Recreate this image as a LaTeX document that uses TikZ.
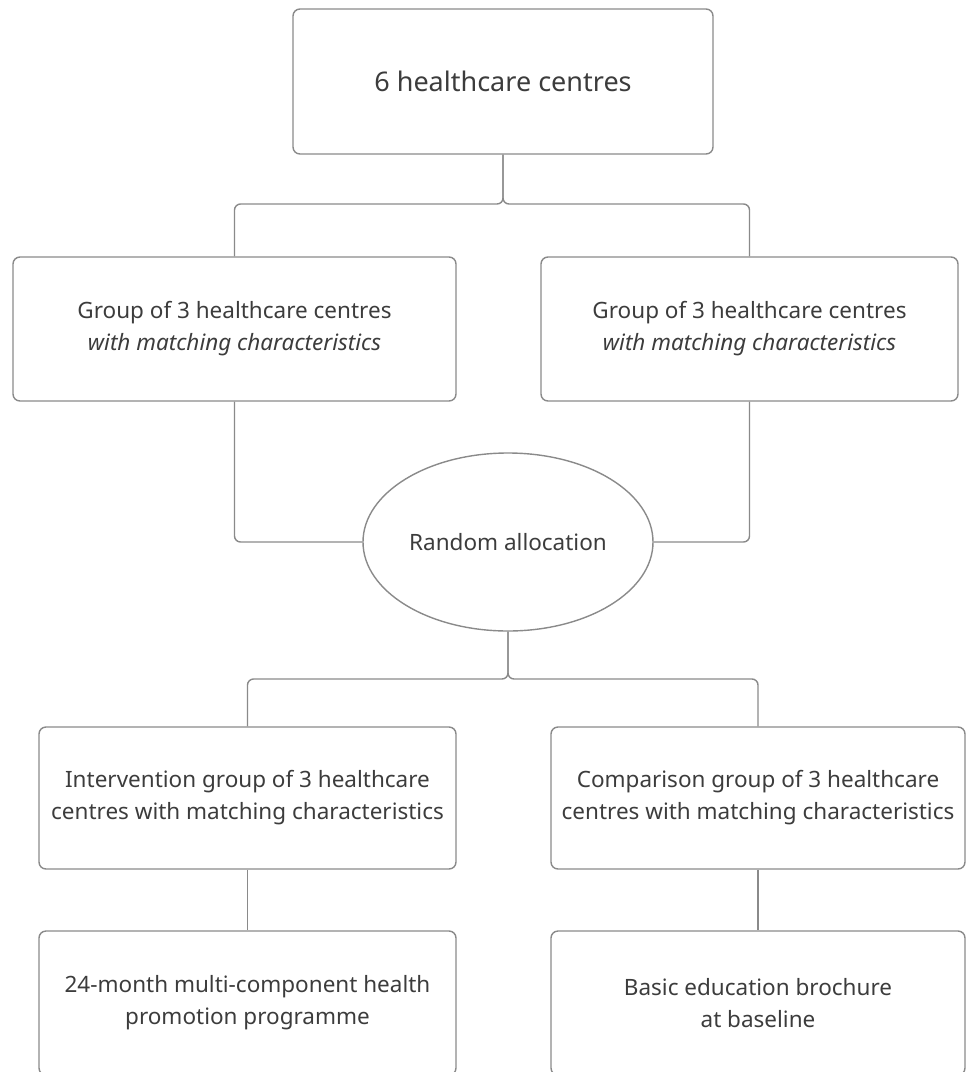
\documentclass[tikz,border=0pt]{standalone}
\usepackage{fontspec}
\setmainfont{Noto Sans}
\usetikzlibrary{shapes.geometric}
\definecolor{linegray}{HTML}{8A8A8A}
\definecolor{textgray}{HTML}{3C3C3C}
\begin{document}
\begin{tikzpicture}[x=1pt,y=-1pt,
  box/.style={draw=linegray, line width=1.4pt, rounded corners=7pt, align=center,
    text=textgray, font=\fontsize{22.5}{32}\selectfont, inner sep=0pt},
  conn/.style={draw=linegray, line width=1.4pt, rounded corners=6pt},
  ell/.style={ellipse, draw=linegray, line width=1.4pt, text=textgray,
    font=\fontsize{22.5}{32}\selectfont, inner sep=0pt}]
\useasboundingbox (0,0) rectangle (967,1072);
\clip (0,0) rectangle (967,1072);
\node[box, minimum width=420pt, minimum height=145pt, font=\fontsize{27}{32}\selectfont] (top) at (503,81.5) {6 healthcare centres};
\node[box, minimum width=443pt, minimum height=144pt] (g1) at (234.5,329) {Group of 3 healthcare centres\\\textit{with matching characteristics}};
\node[box, minimum width=417pt, minimum height=144pt] (g2) at (749.5,329) {Group of 3 healthcare centres\\\textit{with matching characteristics}};
\node[ell, minimum width=290pt, minimum height=178pt] (ra) at (508,542) {Random allocation};
\node[box, minimum width=417pt, minimum height=142pt] (int) at (247.5,798) {Intervention group of 3 healthcare\\centres with matching characteristics};
\node[box, minimum width=414pt, minimum height=142pt] (cmp) at (758,798) {Comparison group of 3 healthcare\\centres with matching characteristics};
\node[box, minimum width=417pt, minimum height=144pt] (p1) at (247.5,1003) {24-month multi-component health\\promotion programme};
\node[box, minimum width=414pt, minimum height=144pt] (p2) at (758,1003) {Basic education brochure\\at baseline};
\coordinate (s1) at (503,204);
\coordinate (s2) at (508,679);
\draw[conn] (top.south) -- (s1) -| (g1.north);
\draw[conn] (top.south) -- (s1) -| (g2.north);
\draw[conn] (g1.south) |- (ra.west);
\draw[conn] (g2.south) |- (ra.east);
\draw[conn] (ra.south) -- (s2) -| (int.north);
\draw[conn] (ra.south) -- (s2) -| (cmp.north);
\draw[conn] (int.south) -- (p1.north);
\draw[conn] (cmp.south) -- (p2.north);
\end{tikzpicture}
\end{document}
